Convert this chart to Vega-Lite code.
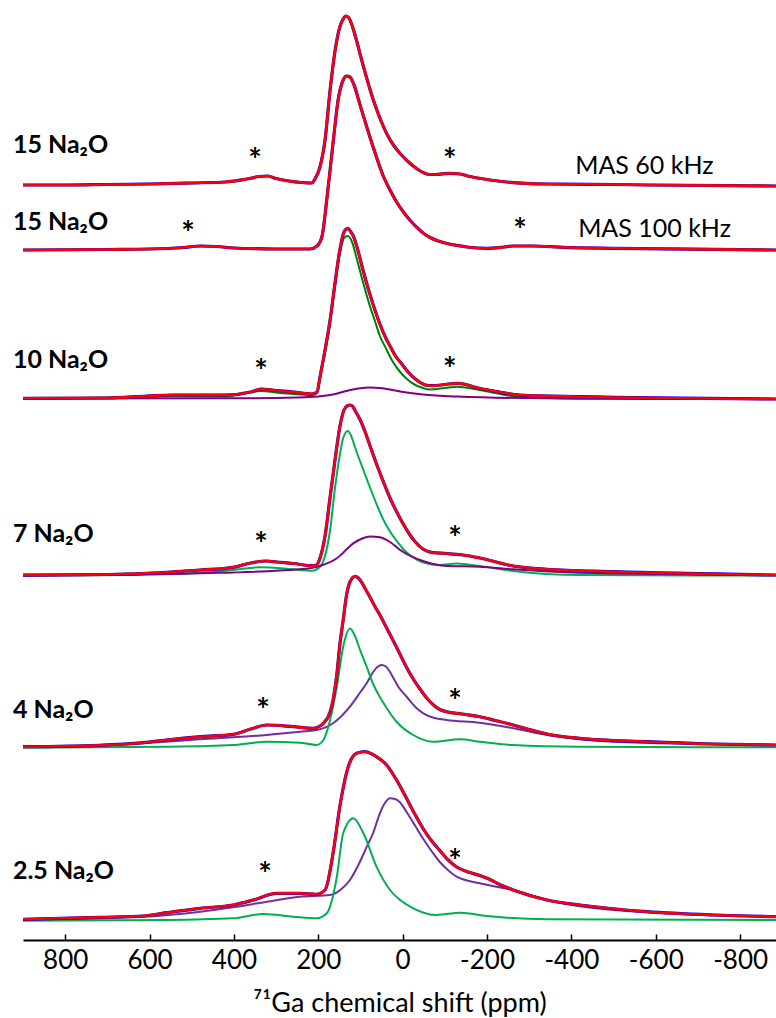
{
 "$schema": "https://vega.github.io/schema/vega-lite/v6.json",
 "width": 753,
 "height": 940,
 "padding": {"left": 23, "top": 0, "right": 0, "bottom": 78},
 "autosize": {"type": "none"},
 "background": "white",
 "config": {"view": {"stroke": null}, "font": "Lato"},
 "datasets": {
  "spec": [
   {"s":"a","c":"fit","x":900,"y":755},{"s":"a","c":"fit","x":800,"y":755},{"s":"a","c":"fit","x":700,"y":755.5},{"s":"a","c":"fit","x":600,"y":756},{"s":"a","c":"fit","x":500,"y":757},{"s":"a","c":"fit","x":420,"y":758},{"s":"a","c":"fit","x":370,"y":761},{"s":"a","c":"fit","x":340,"y":763.5},{"s":"a","c":"fit","x":320,"y":764},{"s":"a","c":"fit","x":300,"y":761.5},{"s":"a","c":"fit","x":270,"y":759},{"s":"a","c":"fit","x":240,"y":757.5},{"s":"a","c":"fit","x":215,"y":757},{"s":"a","c":"fit","x":208,"y":761},{"s":"a","c":"fit","x":196,"y":773},{"s":"a","c":"fit","x":184,"y":800},{"s":"a","c":"fit","x":172,"y":850},{"s":"a","c":"fit","x":160,"y":890},{"s":"a","c":"fit","x":149,"y":913},{"s":"a","c":"fit","x":141,"y":921},{"s":"a","c":"fit","x":135,"y":924},{"s":"a","c":"fit","x":128,"y":922.5},{"s":"a","c":"fit","x":122,"y":917},{"s":"a","c":"fit","x":115,"y":908},{"s":"a","c":"fit","x":108,"y":897.5},{"s":"a","c":"fit","x":101,"y":886},{"s":"a","c":"fit","x":93,"y":873.5},{"s":"a","c":"fit","x":85,"y":861.5},{"s":"a","c":"fit","x":70,"y":840.5},{"s":"a","c":"fit","x":54,"y":822},{"s":"a","c":"fit","x":38,"y":806.5},{"s":"a","c":"fit","x":22,"y":795},{"s":"a","c":"fit","x":6,"y":786.5},{"s":"a","c":"fit","x":-10,"y":779.5},{"s":"a","c":"fit","x":-25,"y":774},{"s":"a","c":"fit","x":-40,"y":769.5},{"s":"a","c":"fit","x":-52,"y":766.8},{"s":"a","c":"fit","x":-65,"y":765.5},{"s":"a","c":"fit","x":-80,"y":765.5},{"s":"a","c":"fit","x":-95,"y":766.2},{"s":"a","c":"fit","x":-112,"y":766.7},{"s":"a","c":"fit","x":-136,"y":766},{"s":"a","c":"fit","x":-160,"y":763.5},{"s":"a","c":"fit","x":-185,"y":761.5},{"s":"a","c":"fit","x":-207,"y":760},{"s":"a","c":"fit","x":-247,"y":758},{"s":"a","c":"fit","x":-342,"y":756},{"s":"a","c":"fit","x":-500,"y":755.5},{"s":"a","c":"fit","x":-580,"y":755},{"s":"a","c":"fit","x":-885,"y":754},

   {"s":"b","c":"fit","x":900,"y":690},{"s":"b","c":"fit","x":700,"y":690.5},{"s":"b","c":"fit","x":600,"y":691},{"s":"b","c":"fit","x":520,"y":692.5},{"s":"b","c":"fit","x":480,"y":694},{"s":"b","c":"fit","x":440,"y":693.5},{"s":"b","c":"fit","x":400,"y":692},{"s":"b","c":"fit","x":300,"y":691},{"s":"b","c":"fit","x":220,"y":691},{"s":"b","c":"fit","x":203,"y":694},{"s":"b","c":"fit","x":191,"y":704},{"s":"b","c":"fit","x":180,"y":740},{"s":"b","c":"fit","x":165,"y":797},{"s":"b","c":"fit","x":153,"y":840},{"s":"b","c":"fit","x":141,"y":860},{"s":"b","c":"fit","x":133,"y":864},{"s":"b","c":"fit","x":125,"y":863},{"s":"b","c":"fit","x":117,"y":857},{"s":"b","c":"fit","x":101,"y":835},{"s":"b","c":"fit","x":85,"y":813},{"s":"b","c":"fit","x":70,"y":793},{"s":"b","c":"fit","x":46,"y":764},{"s":"b","c":"fit","x":30,"y":750},{"s":"b","c":"fit","x":15,"y":738.5},{"s":"b","c":"fit","x":0,"y":729},{"s":"b","c":"fit","x":-17,"y":720},{"s":"b","c":"fit","x":-34,"y":712.5},{"s":"b","c":"fit","x":-50,"y":706.5},{"s":"b","c":"fit","x":-65,"y":702.5},{"s":"b","c":"fit","x":-85,"y":699},{"s":"b","c":"fit","x":-105,"y":696.5},{"s":"b","c":"fit","x":-130,"y":694.5},{"s":"b","c":"fit","x":-152,"y":693},{"s":"b","c":"fit","x":-200,"y":691.7},{"s":"b","c":"fit","x":-240,"y":693},{"s":"b","c":"fit","x":-262,"y":694},{"s":"b","c":"fit","x":-309,"y":694},{"s":"b","c":"fit","x":-380,"y":692.7},{"s":"b","c":"fit","x":-500,"y":691.7},{"s":"b","c":"fit","x":-885,"y":690},

   {"s":"c","c":"fit","x":900,"y":541.7},{"s":"c","c":"fit","x":700,"y":542},{"s":"c","c":"fit","x":606,"y":544},{"s":"c","c":"fit","x":545,"y":545},{"s":"c","c":"fit","x":420,"y":545},{"s":"c","c":"fit","x":360,"y":548},{"s":"c","c":"fit","x":336,"y":551},{"s":"c","c":"fit","x":300,"y":549.5},{"s":"c","c":"fit","x":259,"y":548},{"s":"c","c":"fit","x":215,"y":546},{"s":"c","c":"fit","x":203,"y":548},{"s":"c","c":"fit","x":196,"y":563},{"s":"c","c":"fit","x":184,"y":590},{"s":"c","c":"fit","x":172,"y":620},{"s":"c","c":"fit","x":161,"y":655},{"s":"c","c":"fit","x":149,"y":690},{"s":"c","c":"fit","x":139,"y":708},{"s":"c","c":"fit","x":130,"y":711.7},{"s":"c","c":"fit","x":122,"y":707.5},{"s":"c","c":"fit","x":117,"y":704},{"s":"c","c":"fit","x":105,"y":688},{"s":"c","c":"fit","x":96,"y":673},{"s":"c","c":"fit","x":80,"y":649},{"s":"c","c":"fit","x":65,"y":629},{"s":"c","c":"fit","x":54,"y":616},{"s":"c","c":"fit","x":40,"y":602},{"s":"c","c":"fit","x":30,"y":594},{"s":"c","c":"fit","x":17,"y":584},{"s":"c","c":"fit","x":1,"y":575.5},{"s":"c","c":"fit","x":-15,"y":567},{"s":"c","c":"fit","x":-30,"y":561},{"s":"c","c":"fit","x":-48,"y":556},{"s":"c","c":"fit","x":-60,"y":554.5},{"s":"c","c":"fit","x":-72,"y":554.3},{"s":"c","c":"fit","x":-100,"y":555.5},{"s":"c","c":"fit","x":-129,"y":556.7},{"s":"c","c":"fit","x":-150,"y":555.5},{"s":"c","c":"fit","x":-167,"y":553.3},{"s":"c","c":"fit","x":-224,"y":548.3},{"s":"c","c":"fit","x":-278,"y":545},{"s":"c","c":"fit","x":-420,"y":543.3},{"s":"c","c":"fit","x":-885,"y":541},

   {"s":"c","c":"g1","x":900,"y":541.7},{"s":"c","c":"g1","x":606,"y":543},{"s":"c","c":"g1","x":545,"y":544},{"s":"c","c":"g1","x":420,"y":543.5},{"s":"c","c":"g1","x":336,"y":549},{"s":"c","c":"g1","x":300,"y":547.5},{"s":"c","c":"g1","x":259,"y":546},{"s":"c","c":"g1","x":215,"y":545},{"s":"c","c":"g1","x":203,"y":547},{"s":"c","c":"g1","x":196,"y":562},{"s":"c","c":"g1","x":184,"y":588},{"s":"c","c":"g1","x":172,"y":618},{"s":"c","c":"g1","x":161,"y":652},{"s":"c","c":"g1","x":149,"y":686},{"s":"c","c":"g1","x":139,"y":702},{"s":"c","c":"g1","x":130,"y":704},{"s":"c","c":"g1","x":120,"y":698},{"s":"c","c":"g1","x":108,"y":680},{"s":"c","c":"g1","x":96,"y":661},{"s":"c","c":"g1","x":80,"y":637},{"s":"c","c":"g1","x":65,"y":618},{"s":"c","c":"g1","x":54,"y":604},{"s":"c","c":"g1","x":40,"y":592},{"s":"c","c":"g1","x":23,"y":578},{"s":"c","c":"g1","x":6,"y":568},{"s":"c","c":"g1","x":-10,"y":561},{"s":"c","c":"g1","x":-30,"y":555},{"s":"c","c":"g1","x":-48,"y":552},{"s":"c","c":"g1","x":-65,"y":550.5},{"s":"c","c":"g1","x":-100,"y":552},{"s":"c","c":"g1","x":-129,"y":553.3},{"s":"c","c":"g1","x":-183,"y":550},{"s":"c","c":"g1","x":-262,"y":544},{"s":"c","c":"g1","x":-420,"y":541.3},{"s":"c","c":"g1","x":-885,"y":541},

   {"s":"c","c":"p1","x":900,"y":541.5},{"s":"c","c":"p1","x":400,"y":541.7},{"s":"c","c":"p1","x":250,"y":542.5},{"s":"c","c":"p1","x":200,"y":543.5},{"s":"c","c":"p1","x":165,"y":545.5},{"s":"c","c":"p1","x":133,"y":549},{"s":"c","c":"p1","x":105,"y":551.5},{"s":"c","c":"p1","x":77,"y":552.5},{"s":"c","c":"p1","x":54,"y":552},{"s":"c","c":"p1","x":30,"y":550.5},{"s":"c","c":"p1","x":6,"y":548.5},{"s":"c","c":"p1","x":-48,"y":545.5},{"s":"c","c":"p1","x":-129,"y":543.5},{"s":"c","c":"p1","x":-342,"y":541.7},{"s":"c","c":"p1","x":-885,"y":541},

   {"s":"d","c":"fit","x":900,"y":365},{"s":"d","c":"fit","x":700,"y":365.5},{"s":"d","c":"fit","x":606,"y":366.7},{"s":"d","c":"fit","x":480,"y":370},{"s":"d","c":"fit","x":402,"y":372.7},{"s":"d","c":"fit","x":360,"y":377},{"s":"d","c":"fit","x":322,"y":379},{"s":"d","c":"fit","x":299,"y":378},{"s":"d","c":"fit","x":259,"y":376.5},{"s":"d","c":"fit","x":215,"y":374.3},{"s":"d","c":"fit","x":204,"y":375},{"s":"d","c":"fit","x":196,"y":382},{"s":"d","c":"fit","x":184,"y":404},{"s":"d","c":"fit","x":172,"y":443},{"s":"d","c":"fit","x":161,"y":478},{"s":"d","c":"fit","x":149,"y":513},{"s":"d","c":"fit","x":139,"y":530},{"s":"d","c":"fit","x":130,"y":534.5},{"s":"d","c":"fit","x":125,"y":535},{"s":"d","c":"fit","x":118,"y":533.5},{"s":"d","c":"fit","x":113,"y":529.5},{"s":"d","c":"fit","x":100,"y":519.5},{"s":"d","c":"fit","x":88,"y":507},{"s":"d","c":"fit","x":76,"y":492.5},{"s":"d","c":"fit","x":62,"y":476},{"s":"d","c":"fit","x":46,"y":458.5},{"s":"d","c":"fit","x":30,"y":442},{"s":"d","c":"fit","x":14,"y":428},{"s":"d","c":"fit","x":0,"y":417},{"s":"d","c":"fit","x":-15,"y":406.5},{"s":"d","c":"fit","x":-30,"y":398},{"s":"d","c":"fit","x":-48,"y":391},{"s":"d","c":"fit","x":-72,"y":387.3},{"s":"d","c":"fit","x":-105,"y":386.5},{"s":"d","c":"fit","x":-143,"y":385},{"s":"d","c":"fit","x":-183,"y":382},{"s":"d","c":"fit","x":-262,"y":374},{"s":"d","c":"fit","x":-342,"y":370.7},{"s":"d","c":"fit","x":-500,"y":368.3},{"s":"d","c":"fit","x":-885,"y":365},

   {"s":"d","c":"g2","x":900,"y":364.3},{"s":"d","c":"g2","x":606,"y":365.5},{"s":"d","c":"g2","x":480,"y":367.3},{"s":"d","c":"g2","x":402,"y":370},{"s":"d","c":"g2","x":338,"y":372.7},{"s":"d","c":"g2","x":259,"y":370.7},{"s":"d","c":"g2","x":215,"y":369.3},{"s":"d","c":"g2","x":196,"y":373.3},{"s":"d","c":"g2","x":184,"y":384},{"s":"d","c":"g2","x":172,"y":410},{"s":"d","c":"g2","x":161,"y":450},{"s":"d","c":"g2","x":149,"y":485},{"s":"d","c":"g2","x":141,"y":502},{"s":"d","c":"g2","x":130,"y":509},{"s":"d","c":"g2","x":122,"y":504},{"s":"d","c":"g2","x":115,"y":495.5},{"s":"d","c":"g2","x":109,"y":488},{"s":"d","c":"g2","x":93,"y":470},{"s":"d","c":"g2","x":77,"y":452},{"s":"d","c":"g2","x":62,"y":436},{"s":"d","c":"g2","x":46,"y":420.5},{"s":"d","c":"g2","x":30,"y":408.5},{"s":"d","c":"g2","x":14,"y":399},{"s":"d","c":"g2","x":0,"y":391.5},{"s":"d","c":"g2","x":-17,"y":385},{"s":"d","c":"g2","x":-49,"y":377.5},{"s":"d","c":"g2","x":-88,"y":375},{"s":"d","c":"g2","x":-128,"y":376.5},{"s":"d","c":"g2","x":-183,"y":374},{"s":"d","c":"g2","x":-262,"y":369},{"s":"d","c":"g2","x":-420,"y":365},{"s":"d","c":"g2","x":-885,"y":364.5},

   {"s":"d","c":"p1","x":900,"y":364.3},{"s":"d","c":"p1","x":480,"y":366.7},{"s":"d","c":"p1","x":244,"y":370.7},{"s":"d","c":"p1","x":196,"y":374},{"s":"d","c":"p1","x":156,"y":381.7},{"s":"d","c":"p1","x":117,"y":396.7},{"s":"d","c":"p1","x":96,"y":401.5},{"s":"d","c":"p1","x":77,"y":403.5},{"s":"d","c":"p1","x":54,"y":402.7},{"s":"d","c":"p1","x":30,"y":398},{"s":"d","c":"p1","x":6,"y":390},{"s":"d","c":"p1","x":-48,"y":379},{"s":"d","c":"p1","x":-105,"y":374},{"s":"d","c":"p1","x":-183,"y":373.3},{"s":"d","c":"p1","x":-262,"y":370.7},{"s":"d","c":"p1","x":-420,"y":367.3},{"s":"d","c":"p1","x":-885,"y":365},

   {"s":"e","c":"fit","x":900,"y":193.3},{"s":"e","c":"fit","x":718,"y":194.7},{"s":"e","c":"fit","x":615,"y":197.3},{"s":"e","c":"fit","x":560,"y":200},{"s":"e","c":"fit","x":480,"y":203.3},{"s":"e","c":"fit","x":402,"y":205.7},{"s":"e","c":"fit","x":360,"y":211},{"s":"e","c":"fit","x":322,"y":215},{"s":"e","c":"fit","x":259,"y":213.3},{"s":"e","c":"fit","x":212,"y":211.7},{"s":"e","c":"fit","x":196,"y":214},{"s":"e","c":"fit","x":188,"y":216.7},{"s":"e","c":"fit","x":172,"y":228},{"s":"e","c":"fit","x":165,"y":240},{"s":"e","c":"fit","x":156,"y":266},{"s":"e","c":"fit","x":149,"y":295},{"s":"e","c":"fit","x":141,"y":320},{"s":"e","c":"fit","x":133,"y":345},{"s":"e","c":"fit","x":125,"y":358},{"s":"e","c":"fit","x":113,"y":363.6},{"s":"e","c":"fit","x":105,"y":362},{"s":"e","c":"fit","x":97,"y":357.5},{"s":"e","c":"fit","x":89,"y":351.5},{"s":"e","c":"fit","x":77,"y":342.5},{"s":"e","c":"fit","x":65,"y":333},{"s":"e","c":"fit","x":54,"y":325},{"s":"e","c":"fit","x":38,"y":312},{"s":"e","c":"fit","x":22,"y":299},{"s":"e","c":"fit","x":6,"y":285.5},{"s":"e","c":"fit","x":-10,"y":272},{"s":"e","c":"fit","x":-25,"y":261},{"s":"e","c":"fit","x":-41,"y":251},{"s":"e","c":"fit","x":-57,"y":242},{"s":"e","c":"fit","x":-73,"y":235},{"s":"e","c":"fit","x":-88,"y":230.5},{"s":"e","c":"fit","x":-104,"y":228.3},{"s":"e","c":"fit","x":-140,"y":226},{"s":"e","c":"fit","x":-183,"y":223.3},{"s":"e","c":"fit","x":-220,"y":219.5},{"s":"e","c":"fit","x":-262,"y":215},{"s":"e","c":"fit","x":-300,"y":210.5},{"s":"e","c":"fit","x":-342,"y":206},{"s":"e","c":"fit","x":-420,"y":201.7},{"s":"e","c":"fit","x":-579,"y":198.3},{"s":"e","c":"fit","x":-736,"y":196},{"s":"e","c":"fit","x":-885,"y":195},

   {"s":"e","c":"p2","x":900,"y":193.3},{"s":"e","c":"p2","x":615,"y":196.7},{"s":"e","c":"p2","x":480,"y":200.7},{"s":"e","c":"p2","x":402,"y":202.7},{"s":"e","c":"p2","x":322,"y":205},{"s":"e","c":"p2","x":244,"y":208.3},{"s":"e","c":"p2","x":204,"y":210},{"s":"e","c":"p2","x":165,"y":216.7},{"s":"e","c":"p2","x":125,"y":233.3},{"s":"e","c":"p2","x":100,"y":248},{"s":"e","c":"p2","x":85,"y":257},{"s":"e","c":"p2","x":70,"y":268},{"s":"e","c":"p2","x":60,"y":273},{"s":"e","c":"p2","x":50,"y":275},{"s":"e","c":"p2","x":40,"y":273.5},{"s":"e","c":"p2","x":30,"y":268},{"s":"e","c":"p2","x":22,"y":262},{"s":"e","c":"p2","x":10,"y":253},{"s":"e","c":"p2","x":-10,"y":243},{"s":"e","c":"p2","x":-30,"y":233},{"s":"e","c":"p2","x":-49,"y":226.7},{"s":"e","c":"p2","x":-75,"y":222},{"s":"e","c":"p2","x":-104,"y":220},{"s":"e","c":"p2","x":-183,"y":217.3},{"s":"e","c":"p2","x":-262,"y":211.7},{"s":"e","c":"p2","x":-342,"y":205},{"s":"e","c":"p2","x":-500,"y":198.3},{"s":"e","c":"p2","x":-885,"y":195},

   {"s":"e","c":"g2","x":900,"y":192.3},{"s":"e","c":"g2","x":560,"y":193.3},{"s":"e","c":"g2","x":402,"y":195},{"s":"e","c":"g2","x":322,"y":198.3},{"s":"e","c":"g2","x":244,"y":197.3},{"s":"e","c":"g2","x":204,"y":195},{"s":"e","c":"g2","x":188,"y":200},{"s":"e","c":"g2","x":172,"y":220},{"s":"e","c":"g2","x":156,"y":253.3},{"s":"e","c":"g2","x":141,"y":293.3},{"s":"e","c":"g2","x":125,"y":311.5},{"s":"e","c":"g2","x":113,"y":304},{"s":"e","c":"g2","x":101,"y":290},{"s":"e","c":"g2","x":85,"y":273},{"s":"e","c":"g2","x":70,"y":256},{"s":"e","c":"g2","x":54,"y":243},{"s":"e","c":"g2","x":38,"y":232},{"s":"e","c":"g2","x":14,"y":218},{"s":"e","c":"g2","x":-25,"y":205},{"s":"e","c":"g2","x":-73,"y":198.3},{"s":"e","c":"g2","x":-136,"y":200.7},{"s":"e","c":"g2","x":-183,"y":198.3},{"s":"e","c":"g2","x":-262,"y":195},{"s":"e","c":"g2","x":-420,"y":193.3},{"s":"e","c":"g2","x":-885,"y":192.7},

   {"s":"f","c":"fit","x":900,"y":20.7},{"s":"f","c":"fit","x":718,"y":22.7},{"s":"f","c":"fit","x":615,"y":24},{"s":"f","c":"fit","x":560,"y":27.3},{"s":"f","c":"fit","x":480,"y":31.7},{"s":"f","c":"fit","x":402,"y":35},{"s":"f","c":"fit","x":354,"y":40},{"s":"f","c":"fit","x":299,"y":46.7},{"s":"f","c":"fit","x":244,"y":46.7},{"s":"f","c":"fit","x":204,"y":45.7},{"s":"f","c":"fit","x":184,"y":50},{"s":"f","c":"fit","x":165,"y":86.7},{"s":"f","c":"fit","x":149,"y":133.3},{"s":"f","c":"fit","x":129,"y":173.3},{"s":"f","c":"fit","x":109,"y":186.7},{"s":"f","c":"fit","x":89,"y":188.3},{"s":"f","c":"fit","x":75,"y":186.5},{"s":"f","c":"fit","x":62,"y":183.3},{"s":"f","c":"fit","x":50,"y":179.8},{"s":"f","c":"fit","x":38,"y":175},{"s":"f","c":"fit","x":24,"y":166.5},{"s":"f","c":"fit","x":10,"y":156.7},{"s":"f","c":"fit","x":-10,"y":141},{"s":"f","c":"fit","x":-30,"y":125},{"s":"f","c":"fit","x":-49,"y":111},{"s":"f","c":"fit","x":-68,"y":99.5},{"s":"f","c":"fit","x":-88,"y":89.5},{"s":"f","c":"fit","x":-108,"y":80},{"s":"f","c":"fit","x":-128,"y":73},{"s":"f","c":"fit","x":-155,"y":68},{"s":"f","c":"fit","x":-183,"y":64.5},{"s":"f","c":"fit","x":-207,"y":60.5},{"s":"f","c":"fit","x":-230,"y":55.5},{"s":"f","c":"fit","x":-262,"y":50},{"s":"f","c":"fit","x":-342,"y":40},{"s":"f","c":"fit","x":-420,"y":35},{"s":"f","c":"fit","x":-579,"y":28.3},{"s":"f","c":"fit","x":-736,"y":25},{"s":"f","c":"fit","x":-885,"y":23.3},

   {"s":"f","c":"p2","x":900,"y":20},{"s":"f","c":"p2","x":615,"y":23.3},{"s":"f","c":"p2","x":480,"y":28.3},{"s":"f","c":"p2","x":402,"y":32.7},{"s":"f","c":"p2","x":322,"y":38.3},{"s":"f","c":"p2","x":244,"y":43.3},{"s":"f","c":"p2","x":172,"y":45},{"s":"f","c":"p2","x":145,"y":51},{"s":"f","c":"p2","x":125,"y":60},{"s":"f","c":"p2","x":105,"y":75},{"s":"f","c":"p2","x":85,"y":93.3},{"s":"f","c":"p2","x":70,"y":107},{"s":"f","c":"p2","x":54,"y":126.7},{"s":"f","c":"p2","x":42,"y":137},{"s":"f","c":"p2","x":30,"y":141.7},{"s":"f","c":"p2","x":18,"y":141},{"s":"f","c":"p2","x":6,"y":137.5},{"s":"f","c":"p2","x":-10,"y":127.5},{"s":"f","c":"p2","x":-30,"y":114},{"s":"f","c":"p2","x":-49,"y":101},{"s":"f","c":"p2","x":-70,"y":88},{"s":"f","c":"p2","x":-88,"y":78},{"s":"f","c":"p2","x":-110,"y":69},{"s":"f","c":"p2","x":-128,"y":63.3},{"s":"f","c":"p2","x":-183,"y":56.7},{"s":"f","c":"p2","x":-262,"y":50},{"s":"f","c":"p2","x":-342,"y":40},{"s":"f","c":"p2","x":-500,"y":30},{"s":"f","c":"p2","x":-885,"y":23.3},

   {"s":"f","c":"g2","x":900,"y":19.3},{"s":"f","c":"g2","x":560,"y":20},{"s":"f","c":"g2","x":402,"y":21.7},{"s":"f","c":"g2","x":331,"y":26},{"s":"f","c":"g2","x":259,"y":23.3},{"s":"f","c":"g2","x":204,"y":21.7},{"s":"f","c":"g2","x":180,"y":26.7},{"s":"f","c":"g2","x":156,"y":63.3},{"s":"f","c":"g2","x":141,"y":106.7},{"s":"f","c":"g2","x":117,"y":121.7},{"s":"f","c":"g2","x":93,"y":106.7},{"s":"f","c":"g2","x":62,"y":73.3},{"s":"f","c":"g2","x":30,"y":50},{"s":"f","c":"g2","x":6,"y":40},{"s":"f","c":"g2","x":-25,"y":31.7},{"s":"f","c":"g2","x":-80,"y":25},{"s":"f","c":"g2","x":-136,"y":27.3},{"s":"f","c":"g2","x":-199,"y":24},{"s":"f","c":"g2","x":-342,"y":20.7},{"s":"f","c":"g2","x":-885,"y":20}
  ],
  "txt": [
   {"k":"lab","t":"15 Na₂O","x":924,"y":787},
   {"k":"lab","t":"15 Na₂O","x":924,"y":710},
   {"k":"lab","t":"10 Na₂O","x":924,"y":572},
   {"k":"lab","t":"7 Na₂O","x":924,"y":398},
   {"k":"lab","t":"4 Na₂O","x":924,"y":222},
   {"k":"lab","t":"2.5 Na₂O","x":924,"y":61},
   {"k":"mas","t":"MAS 60 kHz","x":-409,"y":766},
   {"k":"mas","t":"MAS 100 kHz","x":-416,"y":703},
   {"k":"ast","t":"*","x":350,"y":767.6},
   {"k":"ast","t":"*","x":-112,"y":767.6},
   {"k":"ast","t":"*","x":509,"y":694.6},
   {"k":"ast","t":"*","x":-278,"y":697.6},
   {"k":"ast","t":"*","x":336,"y":556.6},
   {"k":"ast","t":"*","x":-112,"y":558.6},
   {"k":"ast","t":"*","x":336,"y":383.6},
   {"k":"ast","t":"*","x":-124,"y":389.6},
   {"k":"ast","t":"*","x":331,"y":217.6},
   {"k":"ast","t":"*","x":-124,"y":226.6},
   {"k":"ast","t":"*","x":326,"y":53.6},
   {"k":"ast","t":"*","x":-124,"y":66.6}
  ]
 },
 "encoding": {
  "x": {"field": "x", "type": "quantitative",
        "scale": {"domain": [-885, 900], "reverse": true, "nice": false, "zero": false},
        "axis": {"values": [800, 600, 400, 200, 0, -200, -400, -600, -800],
                 "labelExpr": "'' + datum.value", "grid": false,
                 "tickSize": -6, "tickColor": "#000", "tickWidth": 1.5,
                 "domainColor": "#000", "domainWidth": 2,
                 "labelFont": "Lato", "labelFontSize": 26, "labelColor": "#000", "labelPadding": 13,
                 "labelFlush": false, "labelOverlap": false, "labelBound": false,
                 "title": "⁷¹Ga chemical shift (ppm)", "titleFont": "Lato", "titleFontSize": 27,
                 "titleFontWeight": "normal", "titleColor": "#000", "titlePadding": 17}},
  "y": {"field": "y", "type": "quantitative", "scale": {"domain": [0, 940], "nice": false}, "axis": null}
 },
 "layer": [
  {"data": {"name": "spec"}, "transform": [{"filter": "datum.c !== 'fit'"}],
   "mark": {"type": "line", "interpolate": "monotone", "strokeWidth": 2},
   "encoding": {"detail": {"field": "s"},
                "color": {"field": "c", "type": "nominal", "legend": null,
                          "scale": {"domain": ["fit", "g1", "g2", "p1", "p2"], "range": ["#FF0000", "#008000", "#00B050", "#800080", "#7030A0"]}},
                "order": {"field": "x", "sort": "descending"}}},
  {"data": {"name": "spec"}, "transform": [{"filter": "datum.c === 'fit'"}],
   "mark": {"type": "line", "interpolate": "monotone", "strokeWidth": 3.2, "color": "#0000FF"},
   "encoding": {"detail": {"field": "s"}, "order": {"field": "x", "sort": "descending"}}},
  {"data": {"name": "spec"}, "transform": [{"filter": "datum.c === 'fit'"}],
   "mark": {"type": "line", "interpolate": "monotone", "strokeWidth": 2.6, "color": "#FF0000"},
   "encoding": {"detail": {"field": "s"}, "order": {"field": "x", "sort": "descending"}}},
  {"data": {"name": "txt"}, "transform": [{"filter": "datum.k === 'lab'"}],
   "mark": {"type": "text", "align": "left", "baseline": "alphabetic", "font": "Lato", "fontSize": 25, "fontWeight": "bold", "color": "#000"},
   "encoding": {"text": {"field": "t"}}},
  {"data": {"name": "txt"}, "transform": [{"filter": "datum.k === 'mas'"}],
   "mark": {"type": "text", "align": "left", "baseline": "alphabetic", "font": "Lato", "fontSize": 25, "color": "#000"},
   "encoding": {"text": {"field": "t"}}},
  {"data": {"name": "txt"}, "transform": [{"filter": "datum.k === 'ast'"}],
   "mark": {"type": "text", "align": "center", "baseline": "alphabetic", "font": "Lato", "fontSize": 32, "fontWeight": "bold", "color": "#000"},
   "encoding": {"text": {"field": "t"}}}
 ]
}
